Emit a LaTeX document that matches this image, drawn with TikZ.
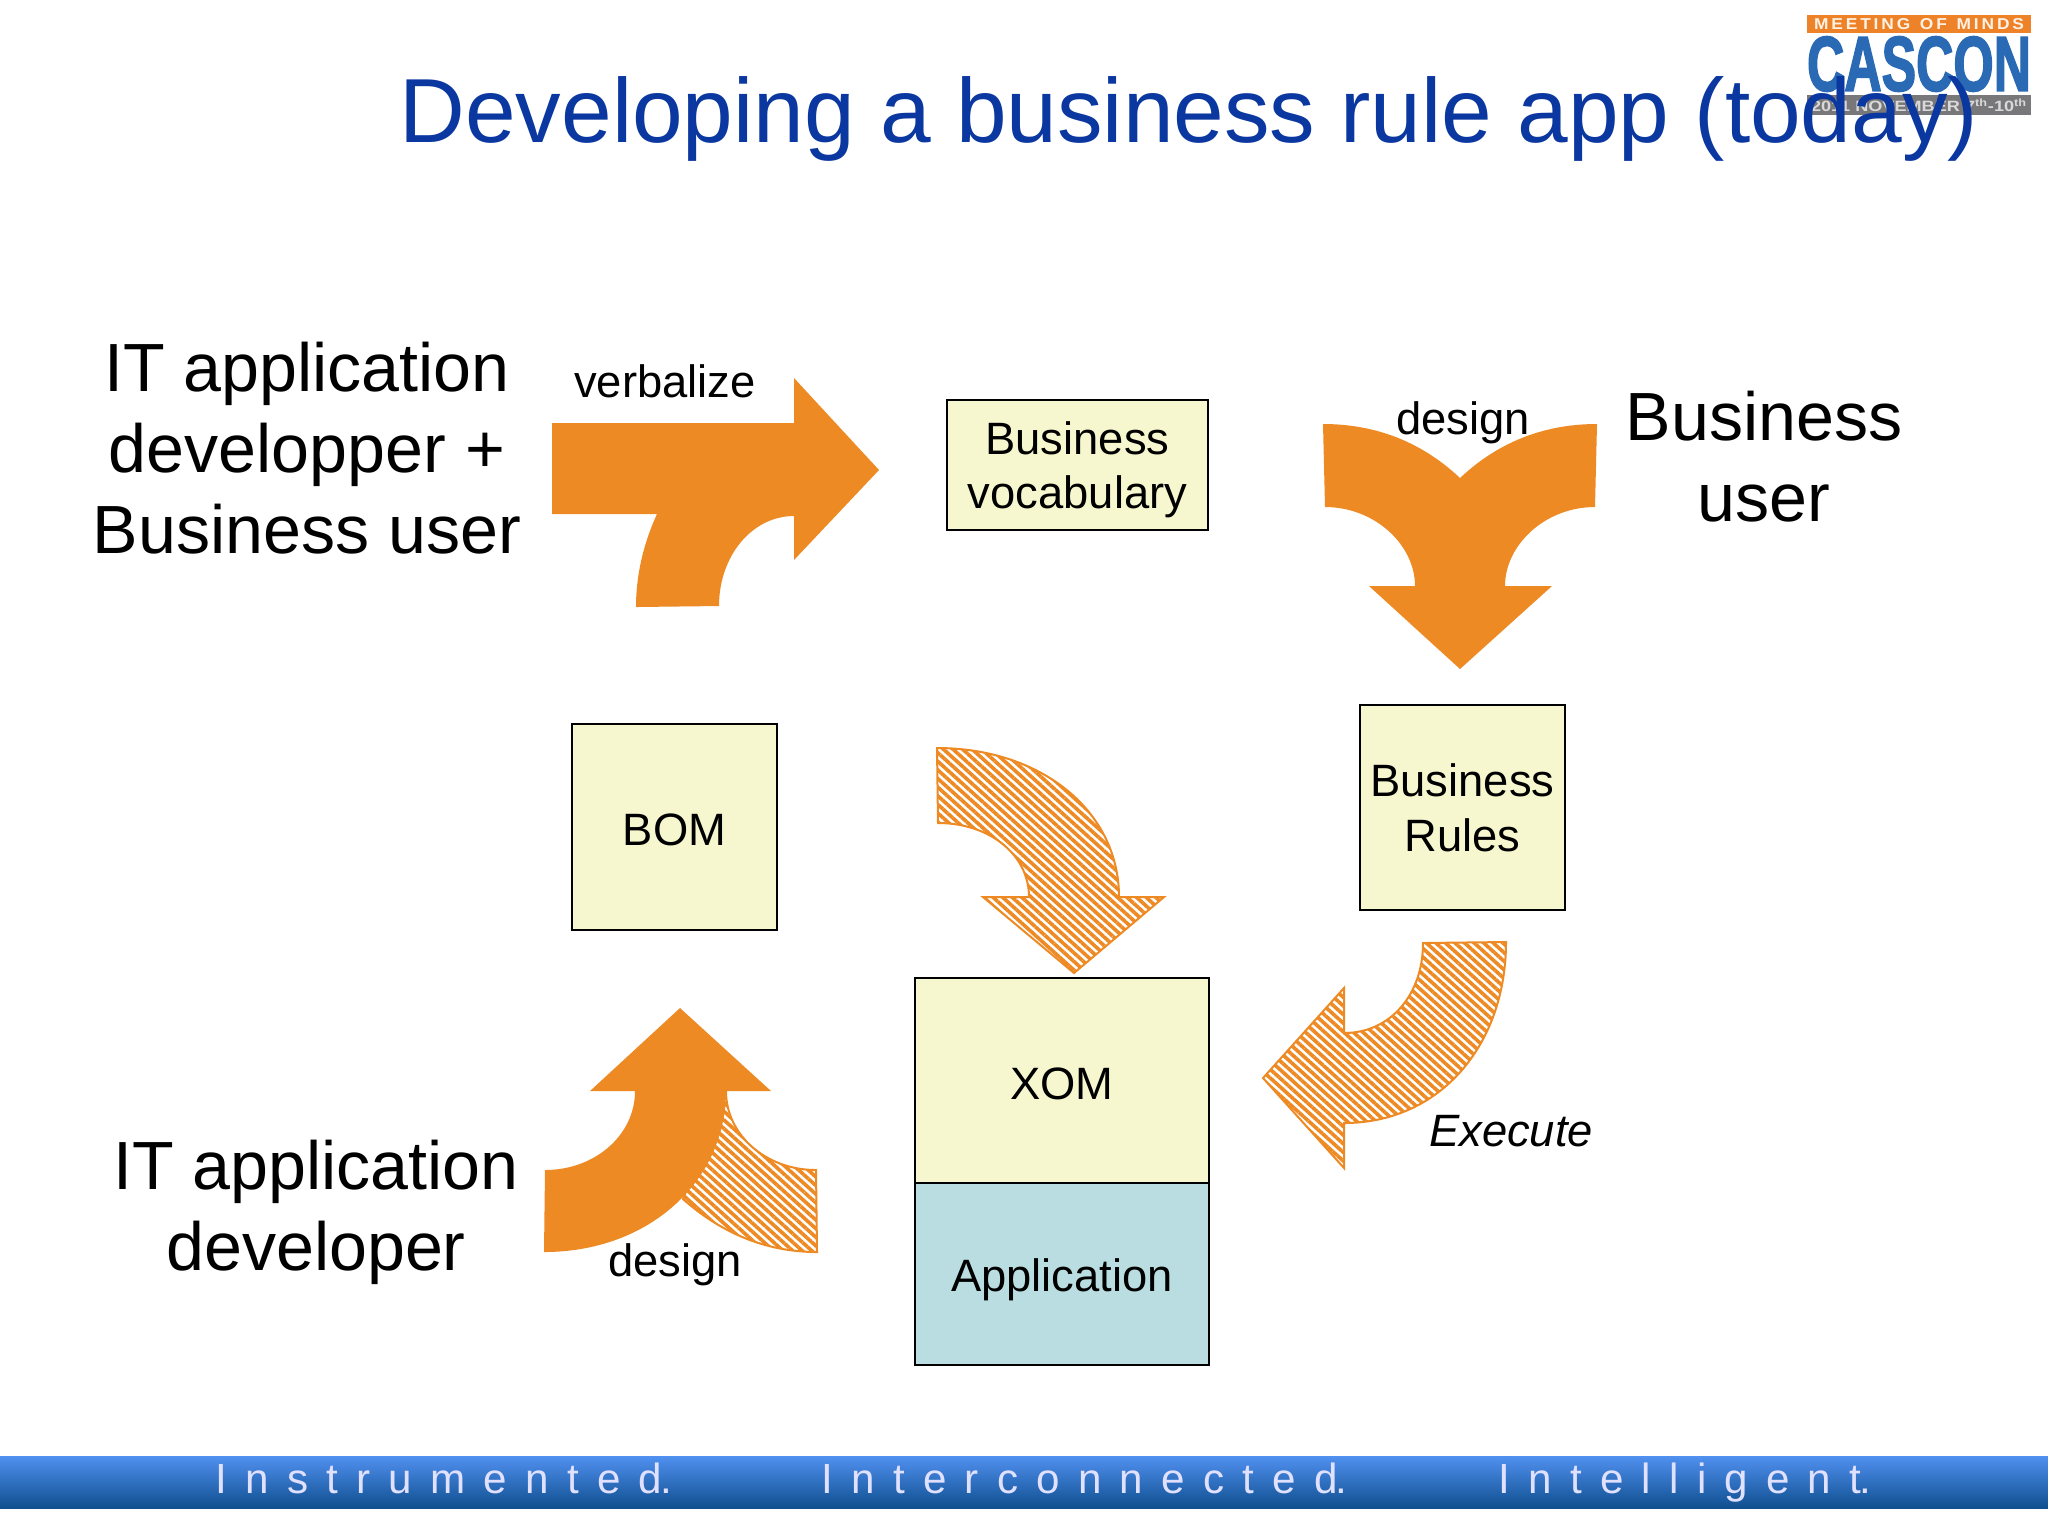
\documentclass[tikz,border=0pt]{standalone}
\usepackage{fontspec}
\setmainfont{Liberation Sans}
\newfontfamily\barfont[LetterSpace=43.2]{Liberation Sans}
\newfontfamily\logofont[FakeBold=2.5]{Liberation Sans Bold}
\usetikzlibrary{patterns.meta}

\definecolor{arroworange}{RGB}{238,138,36}
\definecolor{titleblue}{RGB}{10,55,160}
\definecolor{logoblue}{RGB}{42,106,180}
\definecolor{logoorange}{RGB}{238,130,40}
\definecolor{logogray}{RGB}{120,120,122}
\definecolor{boxyellow}{RGB}{247,247,207}
\definecolor{boxblue}{RGB}{185,221,224}
\definecolor{bartop}{RGB}{80,144,240}
\definecolor{barbottom}{RGB}{15,79,143}

\begin{document}
\begin{tikzpicture}[x=0.1mm, y=-0.1mm,
  main/.style = {draw=black, line width=0.2mm, fill=boxyellow, inner sep=0pt, align=center, text depth=0pt, font=\fontsize{12.9}{15.6}\selectfont},
  small/.style = {inner sep=0pt, align=center, font=\fontsize{12.9}{15.6}\selectfont},
  big/.style = {inner sep=0pt, align=center, font=\fontsize{19.4}{23}\selectfont},
  barlabel/.style = {inner sep=0pt, anchor=base west, text=white!88!blue, font=\fontsize{12}{14}\barfont},
  solidarrow/.style = {fill=arroworange, draw=none},
  hatcharrow/.style = {draw=arroworange, line width=0.2mm, line join=miter, pattern={Lines[angle=-42, distance=0.64mm, line width=0.36mm]}, pattern color=arroworange}]

\useasboundingbox[fill=white] (0, 0) rectangle (2048, 1536);

% logo
\fill[logoorange] (1807, 15) rectangle (2031, 33);
\fill[logogray] (1807, 95) rectangle (2031, 115);
\node[inner sep=0pt, text=white!90!orange] (logotop) at (1919, 24) {\resizebox{21mm}{1.1mm}{\bfseries M\,E\,E\,T\,I\,N\,G\ \ O\,F\ \ M\,I\,N\,D\,S}};
\node[inner sep=0pt, text=logoblue] (logoname) at (1919, 64) {\resizebox{22.4mm}{5.4mm}{\logofont CASCON}};
\node[inner sep=0pt, text=white!70!gray] (logodate) at (1919, 105) {\resizebox{21.6mm}{1.3mm}{\bfseries 2011 NOVEMBER 7\textsuperscript{th}-10\textsuperscript{th}}};

\node[inner sep=0pt, text=titleblue, font=\fontsize{25.9}{30}\selectfont] (title) at (1189, 119) {Developing a business rule app (today)};

% solid arrows
\fill[solidarrow] (552, 423) -- (794, 423) -- (794, 378) -- (879, 470) -- (794, 560) -- (794, 516)
  .. controls (752, 516) and (719, 556) .. (719, 606) -- (636, 607)
  .. controls (636, 572) and (645, 540) .. (657, 514) -- (552, 514) -- cycle;

\fill[solidarrow] (1323, 424) .. controls (1380, 424) and (1425, 445) .. (1460, 478)
  .. controls (1495, 445) and (1540, 424) .. (1597, 424) -- (1595, 507)
  .. controls (1545, 507) and (1505, 545) .. (1505, 586) -- (1552, 586) -- (1460, 669) -- (1369, 586) -- (1415, 586)
  .. controls (1415, 545) and (1375, 507) .. (1325, 507) -- cycle;

% hatched arrows
\draw[hatcharrow] (937, 748) .. controls (1040, 748) and (1119, 810) .. (1119, 897) -- (1164, 897) -- (1074, 973) -- (983, 897) -- (1029, 897)
  .. controls (1029, 855) and (990, 823) .. (938, 823) -- cycle;

\draw[hatcharrow] (1506, 942) -- (1423, 943) .. controls (1423, 995) and (1390, 1033) .. (1344, 1033) -- (1344, 988) -- (1263, 1078) -- (1344, 1168) -- (1344, 1123)
  .. controls (1440, 1123) and (1506, 1045) .. (1506, 942) -- cycle;

\draw[hatcharrow] (726, 1091) .. controls (726, 1135) and (766, 1170) .. (816, 1170) -- (817, 1252)
  .. controls (765, 1252) and (720, 1232) .. (683, 1199) -- cycle;

\fill[solidarrow] (680, 1008) -- (771, 1091) -- (726, 1091) .. controls (726, 1180) and (650, 1252) .. (544, 1252) -- (545, 1170)
  .. controls (595, 1170) and (635, 1135) .. (635, 1091) -- (590, 1091) -- cycle;

% boxes
\node[main, minimum width=26.1mm, minimum height=13mm] (vocab) at (1077.5, 465) {Business\\vocabulary};
\node[main, text height=10.6pt, minimum width=20.5mm, minimum height=20.6mm] (bom) at (674.5, 827) {BOM};
\node[main, minimum width=20.5mm, minimum height=20.5mm] (rules) at (1462.5, 807.5) {Business\\Rules};
\node[main, text height=10.6pt, minimum width=29.4mm, minimum height=20.5mm] (xom) at (1062, 1080.5) {XOM};
\node[main, text height=10pt, fill=boxblue, minimum width=29.4mm, minimum height=18.2mm] (app) at (1062, 1274) {Application};

% labels
\node[big] (devboth) at (307, 448) {IT application\\developper +\\Business user};
\node[big] (buser) at (1764, 457) {Business\\user};
\node[big] (dev) at (316, 1212) {IT application\\developer};
\node[small] (verbalize) at (665, 381) {verbalize};
\node[small] (designtop) at (1463, 423) {design};
\node[small] (designbot) at (675, 1265) {design};
\node[small, font=\fontsize{12.9}{15.6}\itshape] (execute) at (1511, 1131) {Execute};

% bottom bar
\shade[top color=bartop, bottom color=barbottom] (0, 1456) rectangle (2048, 1508);
\node[barlabel] (instr) at (215, 1493) {Instrumented\kern-.05em.};
\node[barlabel] (inter) at (821, 1493) {Interconnected\kern-.05em.};
\node[barlabel] (intel) at (1498, 1493) {Intelligent\kern-.05em.};
\end{tikzpicture}
\end{document}
